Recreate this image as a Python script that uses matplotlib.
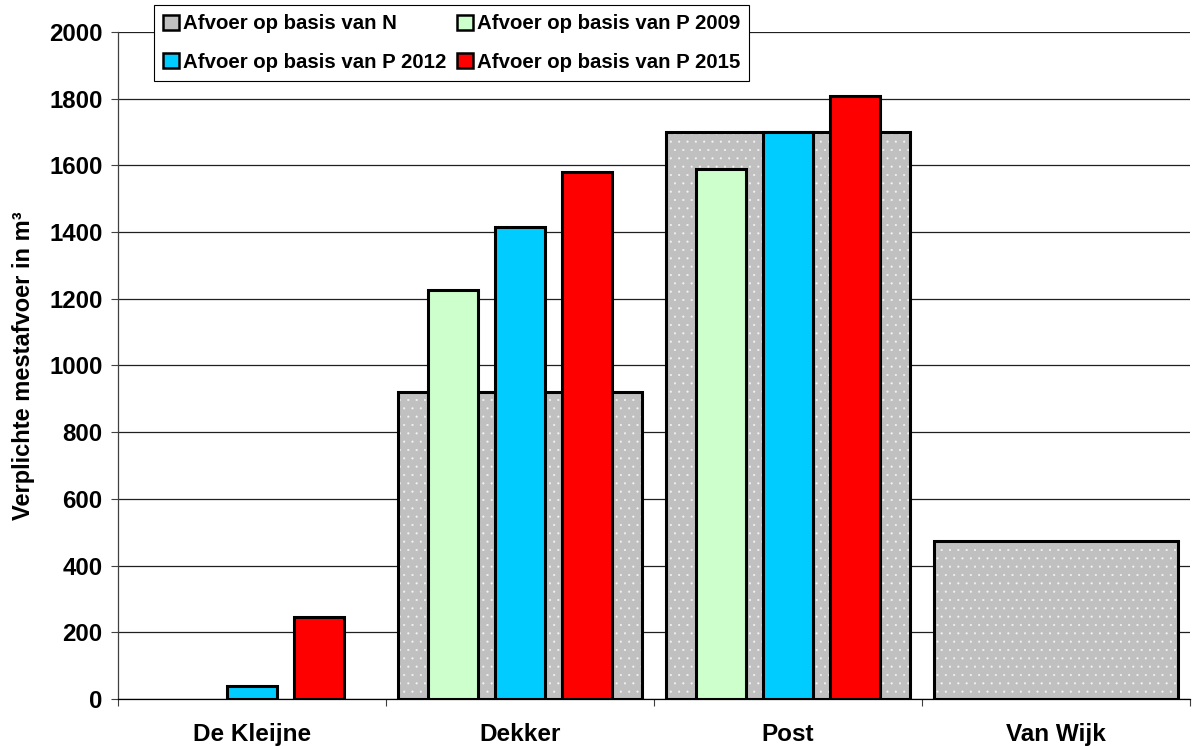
import numpy as np
import matplotlib.pyplot as plt
from matplotlib.patches import Patch

# verplichte mestafvoer per bedrijf (m3)
bedrijven = ['De Kleijne', 'Dekker', 'Post', 'Van Wijk']
afvoer_n = [0, 920, 1700, 475]
afvoer_p2009 = [0, 1226, 1588, 0]
afvoer_p2012 = [40, 1415, 1700, 0]
afvoer_p2015 = [246, 1580, 1808, 0]

namen = ['Afvoer op basis van N', 'Afvoer op basis van P 2009',
         'Afvoer op basis van P 2012', 'Afvoer op basis van P 2015']
kleuren = ['#c0c0c0', '#ccffcc', '#00ccff', '#ff0000']

plt.rcParams['font.family'] = ['Liberation Sans', 'DejaVu Sans']
plt.rcParams['font.weight'] = 'bold'
plt.rcParams['axes.labelweight'] = 'bold'
plt.rcParams['hatch.linewidth'] = 0.3


def hoogte(waarden):
    # nul-waarden niet als balk tekenen
    return [np.nan if v == 0 else v for v in waarden]


fig = plt.figure(figsize=(11.92, 7.46), dpi=100)
ax = fig.add_axes([118 / 1192, 47 / 746, 1072 / 1192, 667 / 746])
x = np.arange(len(bedrijven))

# brede grijze balk met stippen (N), daarna de rand apart
ax.bar(x, hoogte(afvoer_n), width=0.91, color=kleuren[0], edgecolor='#f4f4f4',
       hatch='..', linewidth=0, zorder=2)
ax.bar(x, hoogte(afvoer_n), width=0.91, fill=False, edgecolor='black',
       linewidth=2.2, zorder=3)

# smalle balken voor P-normen
for serie, kleur, dx in zip([afvoer_p2009, afvoer_p2012, afvoer_p2015],
                            kleuren[1:], [-0.25, 0.0, 0.25]):
    ax.bar(x + dx, hoogte(serie), width=0.187, color=kleur, edgecolor='black',
           linewidth=2.2, zorder=4)

ax.set_xlim(-0.5, 3.5)
ax.set_ylim(0, 2000)
ax.set_yticks(np.arange(0, 2001, 200))
ax.tick_params(axis='y', labelsize=17.3, length=5, width=0.8, pad=6, color='#404040')
ax.set_xticks(x)
ax.set_xticklabels(bedrijven)
ax.set_xticks(np.arange(-0.5, 4, 1), minor=True)
ax.tick_params(axis='x', which='major', length=0, labelsize=17.5, pad=17)
ax.tick_params(axis='x', which='minor', length=5, width=0.8, color='#404040')

ax.yaxis.grid(True, color='#202020', linewidth=0.9)
ax.set_axisbelow(True)
for kant in ['top', 'right']:
    ax.spines[kant].set_visible(False)
ax.spines['left'].set_color('#404040')
ax.spines['left'].set_linewidth(0.9)
ax.spines['bottom'].set_color('black')
ax.spines['bottom'].set_linewidth(0.9)

ax.set_ylabel('Verplichte mestafvoer in m³', fontsize=17, labelpad=10)

# legenda in twee rijen: N, P2009 / P2012, P2015
handles = [Patch(facecolor=k, edgecolor='black', linewidth=1.8, label=n)
           for k, n in zip(kleuren, namen)]
volgorde = [0, 2, 1, 3]
leg = fig.legend(handles=[handles[i] for i in volgorde], loc='upper left',
                 bbox_to_anchor=(154 / 1192, 1 - 5 / 746), ncol=2, fontsize=14.7,
                 frameon=True, fancybox=False, edgecolor='black', framealpha=1,
                 handlelength=0.75, handleheight=0.75, handletextpad=0.2,
                 columnspacing=0.55, borderpad=0.45, labelspacing=0.95,
                 borderaxespad=0)
leg.get_frame().set_linewidth(0.8)

fig.savefig('out.png', dpi=100)
